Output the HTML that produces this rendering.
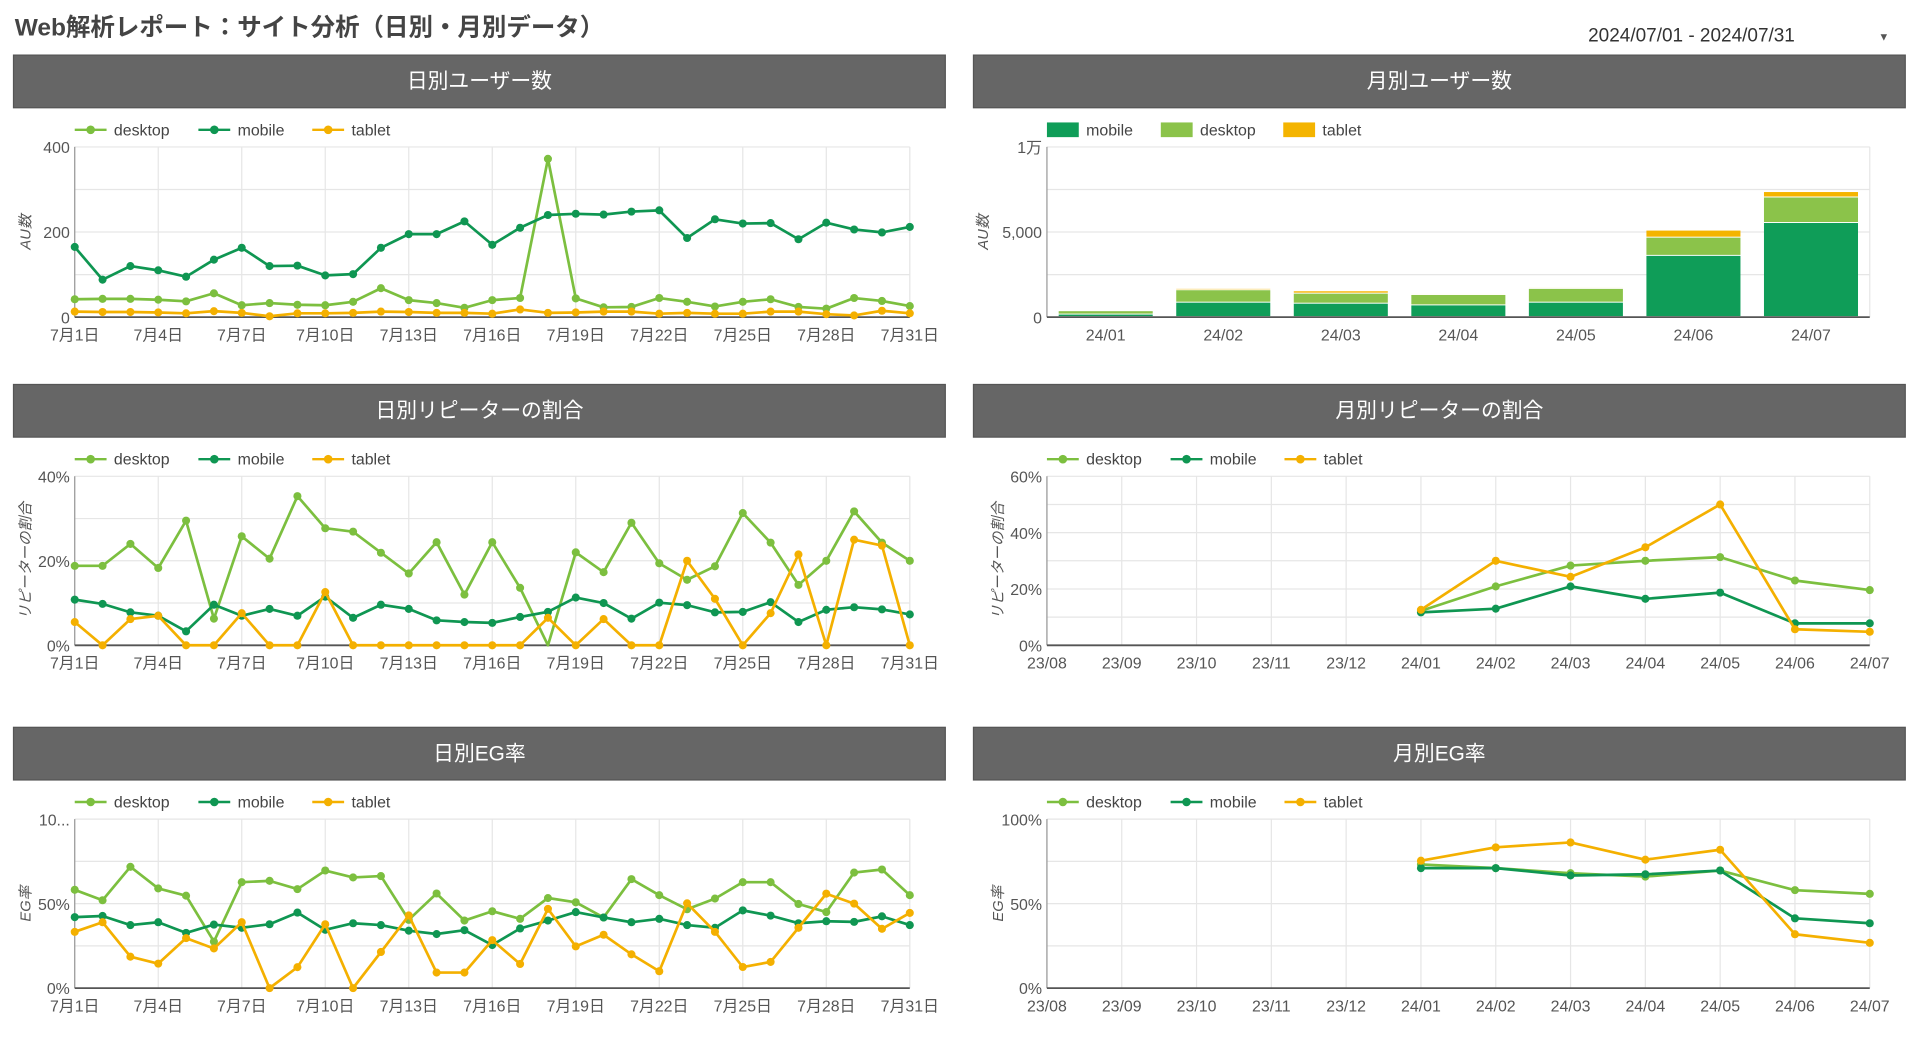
<!DOCTYPE html>
<html><head><meta charset="utf-8">
<style>
html,body{margin:0;padding:0;background:#fff;width:1920px;height:1042px;overflow:hidden}
svg{display:block;font-family:"Liberation Sans","Noto Sans CJK JP",sans-serif}
</style></head>
<body>
<svg id="root" width="1920" height="1042" viewBox="0 0 1568 851" xmlns="http://www.w3.org/2000/svg">
<text x="12" y="29" font-size="20" font-weight="bold" fill="#444">Web解析レポート：サイト分析（日別・月別データ）</text>
<g>
<text x="1297" y="34" font-size="15.5" fill="#333">2024/07/01 - 2024/07/31</text>
<text x="1534" y="33" font-size="9" fill="#555">▼</text>
</g>
</svg>
<script>
const dayLabels = ["7月1日","7月4日","7月7日","7月10日","7月13日","7月16日","7月19日","7月22日","7月25日","7月28日","7月31日"];
const usersDesktop = [42,43,43,41,37,56,28,33,29,28,36,68,40,33,22,40,45,372,44,23,24,45,36,25,36,42,24,20,45,38,26];
const usersMobile = [165,88,120,110,95,135,163,120,121,98,101,163,195,195,225,170,210,240,243,241,248,251,186,230,220,221,183,222,206,199,212];
const usersTablet = [13,12,12,11,9,14,10,2,9,9,10,13,12,10,10,8,18,10,11,13,13,8,10,8,8,13,13,7,4,15,9];
const repDesktop = [18.8,18.8,24,18.3,29.5,6.3,25.8,20.5,35.3,27.7,26.9,21.9,17,24.4,12,24.4,13.6,0,22,17.3,29,19.4,15.5,18.7,31.3,24.3,14.3,20,31.7,24.3,20];
const repMobile = [10.8,9.8,7.8,7,3.3,9.6,7,8.6,7,11.5,6.5,9.6,8.6,5.9,5.5,5.3,6.7,7.9,11.3,10,6.3,10.1,9.5,7.8,7.9,10.2,5.5,8.4,9,8.5,7.3];
const repTablet = [5.5,0,6.2,7,0,0,7.6,0,0,12.6,0,0,0,0,0,0,0,6.5,0,6.2,0,0,20,11,0,7.6,21.5,0,25,23.6,0];
const egDesktop = [58.2,52,71.8,59,54.7,27.5,62.7,63.5,58.6,69.6,65.5,66.3,40.4,56,40,45.5,41,53.3,50.8,41.8,64.5,55,46.7,53,62.7,62.7,49.8,45,68.4,70.2,55];
const egMobile = [42,42.7,37.3,39,32.7,37.6,35.7,37.8,44.7,34.5,38.4,37.3,34,32,34.3,25.5,35.3,40,45,41.8,39,41,37.3,35.7,46,42.9,38.4,39.6,39.2,42.5,37.3];
const egTablet = [33.3,39,18.6,14.5,29.6,23.5,39,0,12.4,37.8,0,21.4,43,9.2,9.2,28.4,14.3,46.9,24.7,31.6,20,10,50.2,33.3,12.5,15.5,35.7,55.9,50,35.1,44.5];
const months = ["23/08","23/09","23/10","23/11","23/12","24/01","24/02","24/03","24/04","24/05","24/06","24/07"];
const mRepDesktop = [null,null,null,null,null,12.2,20.9,28.3,30,31.3,23,19.6];
const mRepMobile = [null,null,null,null,null,11.7,13,20.9,16.5,18.7,7.8,7.8];
const mRepTablet = [null,null,null,null,null,12.6,30,24.3,34.8,50,5.7,4.8];
const mEgDesktop = [null,null,null,null,null,73.2,71,68,66,69.6,58,55.8];
const mEgMobile = [null,null,null,null,null,71,71,66.7,67.4,69.6,41.3,38.4];
const mEgTablet = [null,null,null,null,null,75.4,83.3,86.2,76,81.9,31.9,26.8];
const barMonths = ["24/01","24/02","24/03","24/04","24/05","24/06","24/07"];
const barMobile = [150,850,790,690,850,3600,5530];
const barDesktop = [200,730,590,610,810,1070,1500];
const barTablet = [50,80,140,60,60,415,320];

const C = {desktop:"#7cbf3f", mobile:"#0f9652", tablet:"#f4b000"};
const NS = "http://www.w3.org/2000/svg";
const root = document.getElementById("root");
function el(tag, attrs, parent, txt){
  const e = document.createElementNS(NS, tag);
  for (const k in attrs) e.setAttribute(k, attrs[k]);
  if (txt !== undefined) e.textContent = txt;
  (parent || root).appendChild(e);
  return e;
}

function header(x, y, w, title, name){
  const g = el("g", {});
  
  
  el("rect", {x:x, y:y, width:w, height:43, fill:"#666", stroke:"#555", "stroke-width":1}, g);
  el("text", {x:x+w/2, y:y+27, "font-size":17, fill:"#fff", "text-anchor":"middle"}, g, title);
}

function lineLegend(x, y){
  const g = el("g", {});
  
  
  const items = [["desktop",0],["mobile",101],["tablet",194]];
  items.forEach(([k, off]) => {
    const it = el("g", {}, g);
    
    
    el("line", {x1:x+off, x2:x+off+26, y1:y, y2:y, stroke:C[k], "stroke-width":2}, it);
    el("circle", {cx:x+off+13, cy:y, r:3.5, fill:C[k]}, it);
    el("text", {x:x+off+32, y:y+4.5, "font-size":13, fill:"#444"}, it, k);
  });
}

function lineChart(o){
  const g = el("g", {});
  
  
  const n = o.count;
  const xs = i => o.x0 + (o.x1 - o.x0) * i / (n - 1);
  const ys = v => o.y1 - (o.y1 - o.y0) * v / o.max;
  o.hgrid.forEach(v => el("line", {x1:o.x0, x2:o.x1, y1:ys(v), y2:ys(v), stroke:"#e6e6e6", "stroke-width":1}, g));
  o.vgrid.forEach(i => el("line", {x1:xs(i), x2:xs(i), y1:o.y0, y2:o.y1, stroke:"#e6e6e6", "stroke-width":1}, g));
  el("line", {x1:o.x0, x2:o.x0, y1:o.y0, y2:o.y1, stroke:"#999", "stroke-width":1}, g);
  el("line", {x1:o.x0, x2:o.x1, y1:o.y1, y2:o.y1, stroke:"#555", "stroke-width":1.5}, g);
  o.yticks.forEach((v, k) => {
    const t = el("text", {x:o.x0-4, y:ys(v)+5, "font-size":13, fill:"#555", "text-anchor":"end"}, g, o.ylabels[k]);
    
    
  });
  o.xlabels.forEach((lab, k) => {
    const t = el("text", {x:xs(o.xlabelIdx[k]), y:o.y1+19, "font-size":13, fill:"#555", "text-anchor":"middle"}, g, lab);
    
    
  });
  const yt = el("text", {x:0, y:0, "font-size":12, fill:"#555", "font-style":"italic", "text-anchor":"middle",
    transform:"translate(" + (o.x0-36) + "," + ((o.y0+o.y1)/2) + ") rotate(-90)"}, g, o.ytitle);
  
  
  o.series.forEach(([key, arr, skipZeroDot]) => {
    let d = "";
    arr.forEach((v, i) => { if (v === null) return; d += (d ? "L" : "M") + xs(i).toFixed(1) + "," + ys(v).toFixed(1); });
    const s = el("g", {}, g);
    
    
    el("path", {d:d, fill:"none", stroke:C[key], "stroke-width":2.2, "stroke-linejoin":"round"}, s);
    arr.forEach((v, i) => {
      if (v === null) return;
      if (skipZeroDot && v === 0) return;
      const c = el("circle", {cx:xs(i), cy:ys(v), r:3.3, fill:C[key]}, s);
      
      
    });
  });
}

header(11, 45, 761, "日別ユーザー数", "daily-users-header");
header(795, 45, 761, "月別ユーザー数", "monthly-users-header");
header(11, 314, 761, "日別リピーターの割合", "daily-repeater-header");
header(795, 314, 761, "月別リピーターの割合", "monthly-repeater-header");
header(11, 594, 761, "日別EG率", "daily-eg-header");
header(795, 594, 761, "月別EG率", "monthly-eg-header");

const dayIdx = [0,3,6,9,12,15,18,21,24,27,30];
const mIdx = [0,1,2,3,4,5,6,7,8,9,10,11];

lineLegend(61, 106);
lineChart({name:"daily-users-chart", count:31, x0:61, x1:743, y0:120, y1:259, max:400,
  hgrid:[100,200,300,400], vgrid:dayIdx, yticks:[0,200,400], ylabels:["0","200","400"],
  xlabels:dayLabels, xlabelIdx:dayIdx, ytitle:"AU数",
  series:[["desktop",usersDesktop],["mobile",usersMobile],["tablet",usersTablet]]});

lineLegend(61, 375);
lineChart({name:"daily-repeater-chart", count:31, x0:61, x1:743, y0:389, y1:527, max:40,
  hgrid:[10,20,30,40], vgrid:dayIdx, yticks:[0,20,40], ylabels:["0%","20%","40%"],
  xlabels:dayLabels, xlabelIdx:dayIdx, ytitle:"リピーターの割合",
  series:[["desktop",repDesktop,true],["mobile",repMobile],["tablet",repTablet]]});

lineLegend(61, 655);
lineChart({name:"daily-eg-chart", count:31, x0:61, x1:743, y0:669, y1:807, max:100,
  hgrid:[25,50,75,100], vgrid:dayIdx, yticks:[0,50,100], ylabels:["0%","50%","10..."],
  xlabels:dayLabels, xlabelIdx:dayIdx, ytitle:"EG率",
  series:[["desktop",egDesktop],["mobile",egMobile],["tablet",egTablet]]});

lineLegend(855, 375);
lineChart({name:"monthly-repeater-chart", count:12, x0:855, x1:1527, y0:389, y1:527, max:60,
  hgrid:[10,20,30,40,50,60], vgrid:mIdx, yticks:[0,20,40,60], ylabels:["0%","20%","40%","60%"],
  xlabels:months, xlabelIdx:mIdx, ytitle:"リピーターの割合",
  series:[["desktop",mRepDesktop],["mobile",mRepMobile],["tablet",mRepTablet]]});

lineLegend(855, 655);
lineChart({name:"monthly-eg-chart", count:12, x0:855, x1:1527, y0:669, y1:807, max:100,
  hgrid:[25,50,75,100], vgrid:mIdx, yticks:[0,50,100], ylabels:["0%","50%","100%"],
  xlabels:months, xlabelIdx:mIdx, ytitle:"EG率",
  series:[["desktop",mEgDesktop],["mobile",mEgMobile],["tablet",mEgTablet]]});

(function(){
  const g = el("g", {});
  
  
  const x0 = 855, x1 = 1527, y0 = 120, y1 = 259, max = 10000;
  const ys = v => y1 - (y1 - y0) * v / max;
  const band = (x1 - x0) / barMonths.length;
  const bw = band * 0.8;
  [2500,5000,7500,10000].forEach(v => el("line", {x1:x0, x2:x1, y1:ys(v), y2:ys(v), stroke:"#e6e6e6"}, g));
  el("line", {x1:x1, x2:x1, y1:y0, y2:y1, stroke:"#e6e6e6"}, g);
  el("line", {x1:x0, x2:x0, y1:y0, y2:y1, stroke:"#999"}, g);
  [[0,"0"],[5000,"5,000"],[10000,"1万"]].forEach(([v, l]) => {
    const t = el("text", {x:x0-4, y:ys(v)+5, "font-size":13, fill:"#555", "text-anchor":"end"}, g, l);
    
    
  });
  const yt = el("text", {x:0, y:0, "font-size":12, fill:"#555", "font-style":"italic", "text-anchor":"middle",
    transform:"translate(" + (x0-48) + "," + ((y0+y1)/2) + ") rotate(-90)"}, g, "AU数");
  
  
  barMonths.forEach((m, i) => {
    const cx = x0 + band * (i + 0.5);
    let base = 0;
    [["mobile",barMobile],["desktop",barDesktop],["tablet",barTablet]].forEach(([k, arr]) => {
      const v = arr[i];
      const r = el("rect", {x:cx-bw/2, y:ys(base+v), width:bw, height:Math.max(0, ys(base)-ys(base+v)-0.8),
        fill:k==="desktop"?"#8bc34a":(k==="mobile"?"#0f9d58":"#f4b400")}, g);
      
      
      base += v;
    });
    const t = el("text", {x:cx, y:y1+19, "font-size":13, fill:"#555", "text-anchor":"middle"}, g, m);
    
    
  });
  el("line", {x1:x0, x2:x1, y1:y1, y2:y1, stroke:"#555", "stroke-width":1.5}, g);
  const lg = el("g", {});
  
  
  [["mobile","#0f9d58",855],["desktop","#8bc34a",948],["tablet","#f4b400",1048]].forEach(([k, c, x]) => {
    const it = el("g", {}, lg);
    
    
    el("rect", {x:x, y:100, width:26, height:12, fill:c}, it);
    el("text", {x:x+32, y:110.5, "font-size":13, fill:"#444"}, it, k);
  });
})();
</script>
</body></html>
